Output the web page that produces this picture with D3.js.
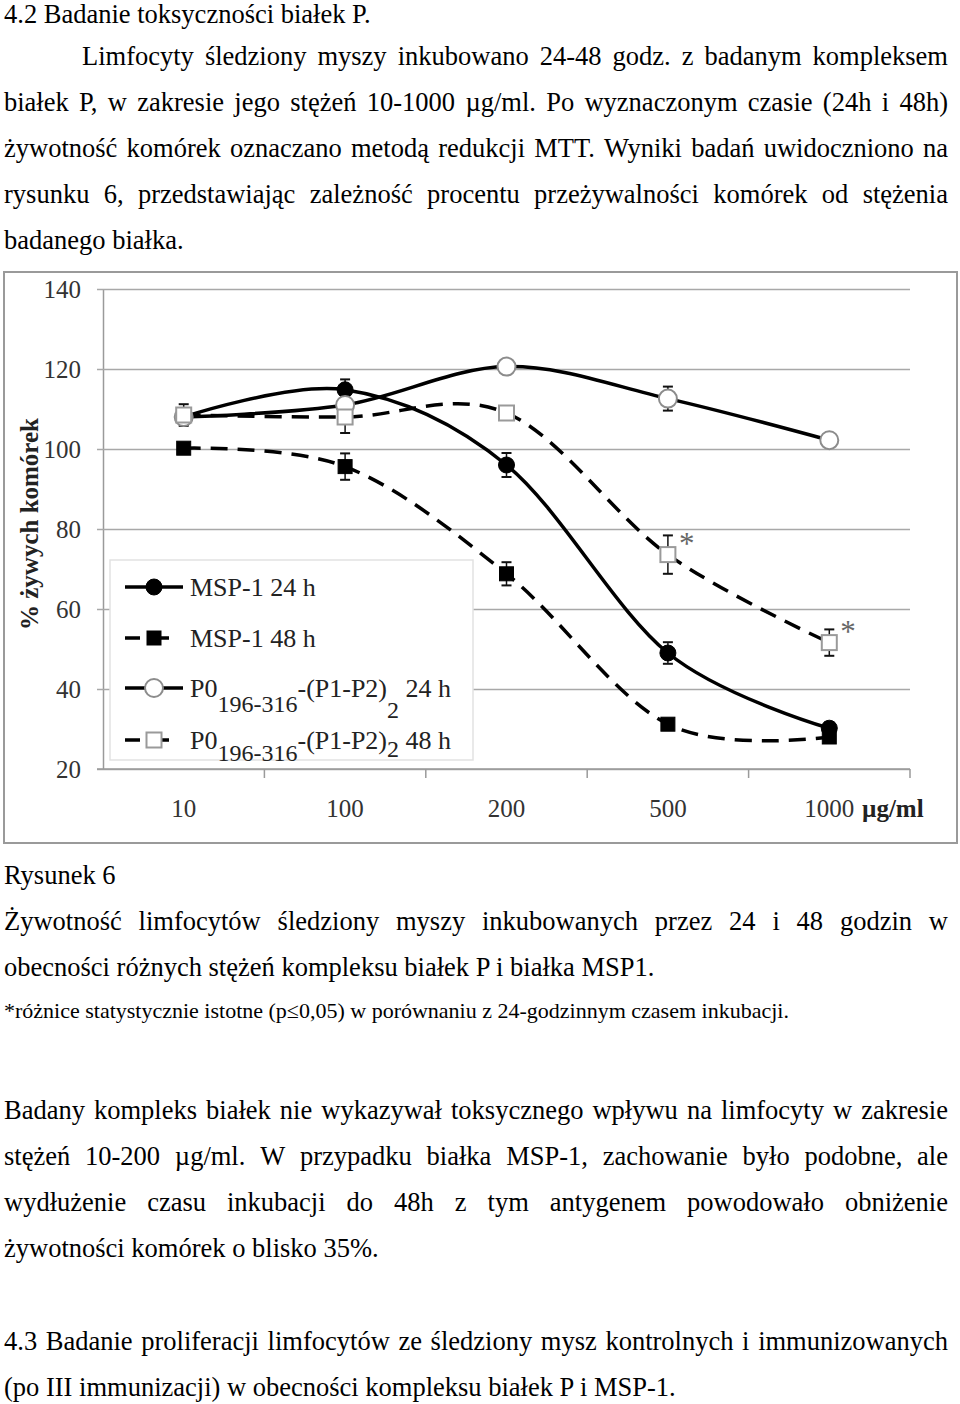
<!DOCTYPE html>
<html><head><meta charset="utf-8">
<script src="https://cdn.jsdelivr.net/npm/d3@7"></script>
<style>body{margin:0;background:#fff} svg{display:block}</style>
</head><body>
<svg id="page" width="960" height="1404"></svg>
<script>
// ---------- DATA ----------
const categories = ["10", "100", "200", "500", "1000"];
const yTicks = [20, 40, 60, 80, 100, 120, 140];
const msp24 = [108, 114.8, 96, 49, 30.2];
const msp24Err = [1, 2.6, 3, 2.7, 1.5];
const msp48 = [100.2, 95.6, 68.8, 31.2, 28];
const msp48Err = [0.8, 3.3, 2.9, 1, 1.2];
const p0_24 = [108, 111, 120.6, 112.6, 102.2];
const p0_24Err = [1, 1.5, 1, 3, 1];
const p0_48 = [108.5, 108, 109, 73.6, 51.6];
const p0_48Err = [2.7, 4, 1, 4.8, 3.3];
const p0_48Sig = [false, false, false, true, true];
const seriesNames = ["MSP-1 24 h", "MSP-1 48 h", "P0 196-316 -(P1-P2) 2 24 h", "P0 196-316 -(P1-P2) 2 48 h"];
const yTitle = "% żywych komórek";
const xUnit = "µg/ml";

const introLines = [
  "4.2 Badanie toksyczności białek P.",
  "Limfocyty śledziony myszy inkubowano 24-48 godz. z badanym kompleksem",
  "białek P, w zakresie jego stężeń 10-1000 µg/ml. Po wyznaczonym czasie (24h i 48h)",
  "żywotność komórek oznaczano metodą redukcji MTT. Wyniki badań uwidoczniono na",
  "rysunku 6, przedstawiając zależność procentu przeżywalności komórek od stężenia",
  "badanego białka."
];
const captionLines = [
  "Rysunek 6",
  "Żywotność limfocytów śledziony myszy inkubowanych przez 24 i 48 godzin w",
  "obecności różnych stężeń kompleksu białek P i białka MSP1.",
  "*różnice statystycznie istotne (p≤0,05) w porównaniu z 24-godzinnym czasem inkubacji."
];
const bodyLines = [
  "Badany kompleks białek nie wykazywał toksycznego wpływu na limfocyty w zakresie",
  "stężeń 10-200 µg/ml. W przypadku białka MSP-1, zachowanie było podobne, ale",
  "wydłużenie czasu inkubacji do 48h z tym antygenem powodowało obniżenie",
  "żywotności komórek o blisko 35%.",
  "4.3 Badanie proliferacji limfocytów ze śledziony mysz kontrolnych i immunizowanych",
  "(po III immunizacji) w obecności kompleksu białek P i MSP-1."
];

// ---------- RENDER ----------
const FONT = "'Liberation Serif','Times New Roman',serif";
const svg = d3.select("#page");
const RIGHT = 948;
const FS = 26.5;

function textLine(str, x, y, size, justifyTo) {
  const t = svg.append("text").attr("x", x).attr("y", y)
    .attr("font-family", FONT).attr("font-size", size).attr("fill", "#000");
  if (justifyTo) {
    const words = str.split(" ");
    const spans = words.map(w => t.append("tspan").text(w));
    const widths = spans.map(s => s.node().getComputedTextLength());
    const gap = (justifyTo - x - d3.sum(widths)) / (words.length - 1);
    let cx = x;
    spans.forEach((s, i) => { s.attr("x", cx); cx += widths[i] + gap; });
  } else t.text(str);
  return t;
}

// intro text
textLine(introLines[0], 4, 23, FS);
textLine(introLines[1], 82, 65, FS, RIGHT);
textLine(introLines[2], 4, 111, FS, RIGHT);
textLine(introLines[3], 4, 157, FS, RIGHT);
textLine(introLines[4], 4, 203, FS, RIGHT);
textLine(introLines[5], 4, 249, FS);

// caption
textLine(captionLines[0], 4, 884, FS);
textLine(captionLines[1], 4, 930, FS, RIGHT);
textLine(captionLines[2], 4, 976, FS);
textLine(captionLines[3], 4, 1018, 22);

// body
textLine(bodyLines[0], 4, 1119, FS, RIGHT);
textLine(bodyLines[1], 4, 1165, FS, RIGHT);
textLine(bodyLines[2], 4, 1211, FS, RIGHT);
textLine(bodyLines[3], 4, 1257, FS);
textLine(bodyLines[4], 4, 1350, FS, RIGHT);
textLine(bodyLines[5], 4, 1396, FS);

// ---------- CHART ----------
svg.append("rect").attr("x", 4).attr("y", 272).attr("width", 953).attr("height", 571)
  .attr("fill", "#fff").attr("stroke", "#9a9a9a").attr("stroke-width", 2);

const x = d3.scaleBand().domain(categories).range([103, 910]);
const cx = c => x(c) + x.bandwidth() / 2;
const y = d3.scaleLinear().domain([20, 140]).range([769, 289]);

const g = svg.append("g");
// gridlines + y axis
const yAxis = d3.axisLeft(y).tickValues(yTicks).tickSize(-(910 - 103)).tickPadding(22).tickSizeOuter(0);
const ya = g.append("g").attr("transform", "translate(103,0)").call(yAxis);
ya.select(".domain").attr("stroke", "#9a9a9a").attr("stroke-width", 1.5);
ya.selectAll(".tick line").attr("stroke", "#a8a8a8").attr("stroke-width", 1.5).attr("x1", -6);
ya.selectAll(".tick text").attr("font-family", FONT).attr("font-size", 25).attr("fill", "#333");

// x axis
const xAxis = d3.axisBottom(x).tickSize(0).tickPadding(30).tickSizeOuter(0);
const xa = g.append("g").attr("transform", "translate(0,769)").call(xAxis);
xa.select(".domain").attr("stroke", "#9a9a9a").attr("stroke-width", 1.5).attr("d", "M97,0H910");
xa.selectAll(".tick text").attr("font-family", FONT).attr("font-size", 25).attr("fill", "#333");
// category boundary tick marks
const bounds = categories.map(c => x(c)).concat([x(categories[categories.length - 1]) + x.bandwidth()]);
xa.selectAll(".bnd").data(bounds.slice(1)).join("line")
  .attr("x1", d => d).attr("x2", d => d).attr("y1", 0).attr("y2", 9)
  .attr("stroke", "#9a9a9a").attr("stroke-width", 1.5);
g.append("text").attr("x", 862).attr("y", 817).attr("font-family", FONT).attr("font-size", 25)
  .attr("font-weight", "bold").attr("fill", "#222").text(xUnit);

// y title
g.append("text").attr("transform", "translate(38,524) rotate(-90)").attr("text-anchor", "middle")
  .attr("font-family", FONT).attr("font-size", 25).attr("font-weight", "bold").attr("fill", "#222")
  .text(yTitle);

const series = [
  { values: msp24, err: msp24Err, dash: null, shape: "circle", filled: true },
  { values: msp48, err: msp48Err, dash: "17,10", shape: "square", filled: true },
  { values: p0_24, err: p0_24Err, dash: null, shape: "circle", filled: false },
  { values: p0_48, err: p0_48Err, dash: "17,10", shape: "square", filled: false }
];

const line = d3.line().x((d, i) => cx(categories[i])).y(d => y(d)).curve(d3.curveCardinal.tension(0));

// legend box (drawn before lines; covers gridlines)
g.append("rect").attr("x", 110).attr("y", 560).attr("width", 363).attr("height", 200)
  .attr("fill", "#fff").attr("stroke", "#e2e2e2").attr("stroke-width", 1.5);

series.forEach(s => {
  g.append("path").attr("d", line(s.values)).attr("fill", "none").attr("stroke", "#000")
    .attr("stroke-width", 3.5).attr("stroke-dasharray", s.dash);
});

function drawMarker(sel, shape, filled, px, py) {
  if (shape === "circle") {
    sel.append("circle").attr("cx", px).attr("cy", py).attr("r", filled ? 8 : 9)
      .attr("fill", filled ? "#000" : "#fff").attr("stroke", filled ? "#000" : "#8c8c8c")
      .attr("stroke-width", filled ? 1 : 2);
  } else {
    const sz = filled ? 14 : 15;
    sel.append("rect").attr("x", px - sz / 2).attr("y", py - sz / 2).attr("width", sz).attr("height", sz)
      .attr("fill", filled ? "#000" : "#fff").attr("stroke", filled ? "#000" : "#9a9a9a")
      .attr("stroke-width", filled ? 1 : 2);
  }
}

// error bars (behind markers)
series.forEach(s => {
  s.values.forEach((v, i) => {
    const px = cx(categories[i]);
    const y1 = y(v + s.err[i]), y2 = y(v - s.err[i]);
    g.append("line").attr("x1", px).attr("x2", px).attr("y1", y1).attr("y2", y2)
      .attr("stroke", "#111").attr("stroke-width", 1.5);
    [y1, y2].forEach(yy => g.append("line").attr("x1", px - 5).attr("x2", px + 5)
      .attr("y1", yy).attr("y2", yy).attr("stroke", "#111").attr("stroke-width", 2));
  });
});
series.forEach(s => {
  s.values.forEach((v, i) => drawMarker(g, s.shape, s.filled, cx(categories[i]), y(v)));
});
// significance asterisks
p0_48.forEach((v, i) => {
  if (p0_48Sig[i]) g.append("text").attr("x", cx(categories[i]) + 11).attr("y", y(v) - 1)
    .attr("font-family", FONT).attr("font-size", 31).attr("fill", "#666").text("*");
});

// legend entries
const legRows = [587, 638, 688, 740];
series.forEach((s, i) => {
  const ry = legRows[i];
  g.append("line").attr("x1", 125).attr("x2", 183).attr("y1", ry).attr("y2", ry)
    .attr("stroke", "#000").attr("stroke-width", 3.5)
    .attr("stroke-dasharray", s.dash ? "15,14" : null);
  drawMarker(g, s.shape, s.filled, 154, ry);
});
function legText(i, parts) {
  const t = g.append("text").attr("x", 190).attr("y", legRows[i] + 9)
    .attr("font-family", FONT).attr("font-size", 26).attr("fill", "#222");
  parts.forEach(p => t.append("tspan").attr("dy", p[1]).attr("font-size", p[2] || 26).text(p[0]));
}
const nm = seriesNames.map(n => n.split(" "));
legText(0, [[seriesNames[0], 0]]);
legText(1, [[seriesNames[1], 0]]);
legText(2, [[nm[2][0], 0], [nm[2][1], 15, 24], [nm[2][2], -15], [nm[2][3], 21, 24], [" " + nm[2][4] + " " + nm[2][5], -21]]);
legText(3, [[nm[3][0], 0], [nm[3][1], 12, 24], [nm[3][2], -12], [nm[3][3], 8, 24], [" " + nm[3][4] + " " + nm[3][5], -8]]);
</script>
</body></html>
